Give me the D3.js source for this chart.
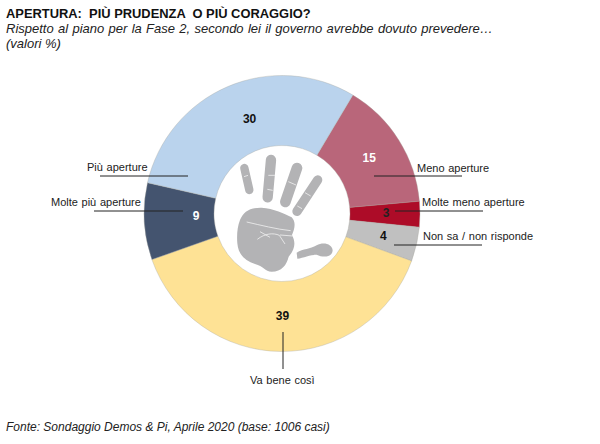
<!DOCTYPE html>
<html><head><meta charset="utf-8">
<script src="https://cdnjs.cloudflare.com/ajax/libs/d3/7.8.5/d3.min.js"></script>
<style>html,body{margin:0;background:#fff}svg{display:block}text{font-family:"Liberation Sans",Arial,sans-serif}</style>
</head><body><svg id="c" width="600" height="444"></svg>
<script>
const categories = ["Meno aperture","Molte meno aperture","Non sa / non risponde","Va bene così","Molte più aperture","Più aperture"];
const values = [15,3,4,39,9,30];
const colors = ["#b9667a","#ad0c28","#c0c0c0","#fee295","#44546f","#bad3ed"];
const valueColors = ["#fff","#222","#111","#111","#fff","#111"];
const titleText = "APERTURA:  PIÙ PRUDENZA  O PIÙ CORAGGIO?";
const subtitleText = "Rispetto al piano per la Fase 2, secondo lei il governo avrebbe dovuto prevedere…";
const unitText = "(valori %)";
const sourceText = "Fonte: Sondaggio Demos & Pi, Aprile 2020 (base: 1006 casi)";

const svg = d3.select("#c");
const cx = 282, cy = 213.5, R = 138, r = 68;
const start = 30.9 * Math.PI / 180;
const pie = d3.pie().sort(null).value(d => d).startAngle(start).endAngle(start + 2 * Math.PI);
const arc = d3.arc().innerRadius(r).outerRadius(R);
const arcs = pie(values);
const g = svg.append("g").attr("transform", `translate(${cx},${cy})`);
g.selectAll("path").data(arcs).join("path")
  .attr("d", arc).attr("fill", (d, i) => colors[i])
  .attr("stroke", "#a9a9a0").attr("stroke-opacity", .45).attr("stroke-width", .8);

// hand drawing (decorative), in 3x zoomed local units
const hand = svg.append("g").attr("transform", "translate(220,140) scale(0.3333)");
const grey = "#b3b3b5";
[[[73,84],[88,150],25],[[153,60],[143,172],31],[[231,84],[196,186],32],[[293,120],[231,214],28]]
 .forEach(([a,b,w]) => hand.append("line").attr("x1",a[0]).attr("y1",a[1]).attr("x2",b[0]).attr("y2",b[1])
   .attr("stroke",grey).attr("stroke-width",w).attr("stroke-linecap","round"));
hand.append("path").attr("fill",grey).attr("d",
 "M60,240 C70,215 90,202 125,203 C160,205 195,222 215,232 C228,245 225,265 216,285 C226,305 228,325 206,350 C200,375 185,395 155,395 C135,395 130,378 105,372 C75,362 55,345 52,310 C50,285 52,260 60,240Z");
hand.append("path").attr("fill",grey).attr("d",
 "M230,338 C250,326 270,328 290,316 C310,304 338,312 338,332 C335,352 310,354 290,344 C270,344 250,354 232,356Z");
[["M80,246 C120,255 170,268 212,272"],["M112,298 C135,280 160,278 178,286 L195,312"],["M120,275 L150,292"],["M180,285 L218,288"],
 ["M145,106 L165,106"],["M142,148 L158,151"],["M205,125 L228,135"],["M255,158 L272,168"],["M72,110 L84,106"],["M232,198 L246,206"]]
 .forEach(([d]) => hand.append("path").attr("d",d).attr("fill","none").attr("stroke","#eee").attr("stroke-width",2.5));

// value labels: offset from each slice centroid
const valueOffsets = [[0,-1],[1,-1],[1,-1],[1,-1],[17,-4],[8,0]];
g.selectAll("text.v").data(arcs).join("text").attr("class","v")
  .attr("x",(d,i)=>arc.centroid(d)[0]+valueOffsets[i][0])
  .attr("y",(d,i)=>arc.centroid(d)[1]+valueOffsets[i][1])
  .attr("dy","0.35em").attr("text-anchor","middle")
  .attr("font-size",12).attr("font-weight","bold")
  .attr("fill",(d,i)=>valueColors[i]).text(d=>d.value);

// callouts, same order as categories
const callouts = [
 {x1:374,x2:462,y:176,tx:417,ty:172},
 {x1:395,x2:483,y:211,tx:422,ty:206},
 {x1:394,x2:482,y:245,tx:423,ty:240},
 {x1:283,x2:283,y:332,y2:369,tx:250,ty:384},
 {x1:94,x2:183,y:211,tx:51,ty:206},
 {x1:100,x2:188,y:176,tx:87,ty:171}];
svg.selectAll("line.l").data(callouts).join("line").attr("class","l")
  .attr("x1",d=>d.x1).attr("x2",d=>d.x2).attr("y1",d=>d.y).attr("y2",d=>d.y2||d.y)
  .attr("stroke","#222").attr("stroke-width",1);
svg.selectAll("text.c").data(callouts).join("text").attr("class","c")
  .attr("x",d=>d.tx).attr("y",d=>d.ty).attr("font-size",11).attr("word-spacing",.6).attr("fill","#222")
  .text((d,i)=>categories[i]);

svg.append("text").attr("x",6).attr("y",18).attr("font-size",12.9).attr("font-weight","bold").attr("fill","#111").style("white-space","pre").text(titleText);
svg.append("text").attr("x",6).attr("y",33).attr("font-size",13).attr("word-spacing",.7).attr("font-style","italic").attr("fill","#222").text(subtitleText);
svg.append("text").attr("x",6).attr("y",48).attr("font-size",13).attr("font-style","italic").attr("fill","#222").text(unitText);
svg.append("text").attr("x",6).attr("y",431).attr("font-size",12).attr("font-style","italic").attr("fill","#222").text(sourceText);
</script></body></html>
